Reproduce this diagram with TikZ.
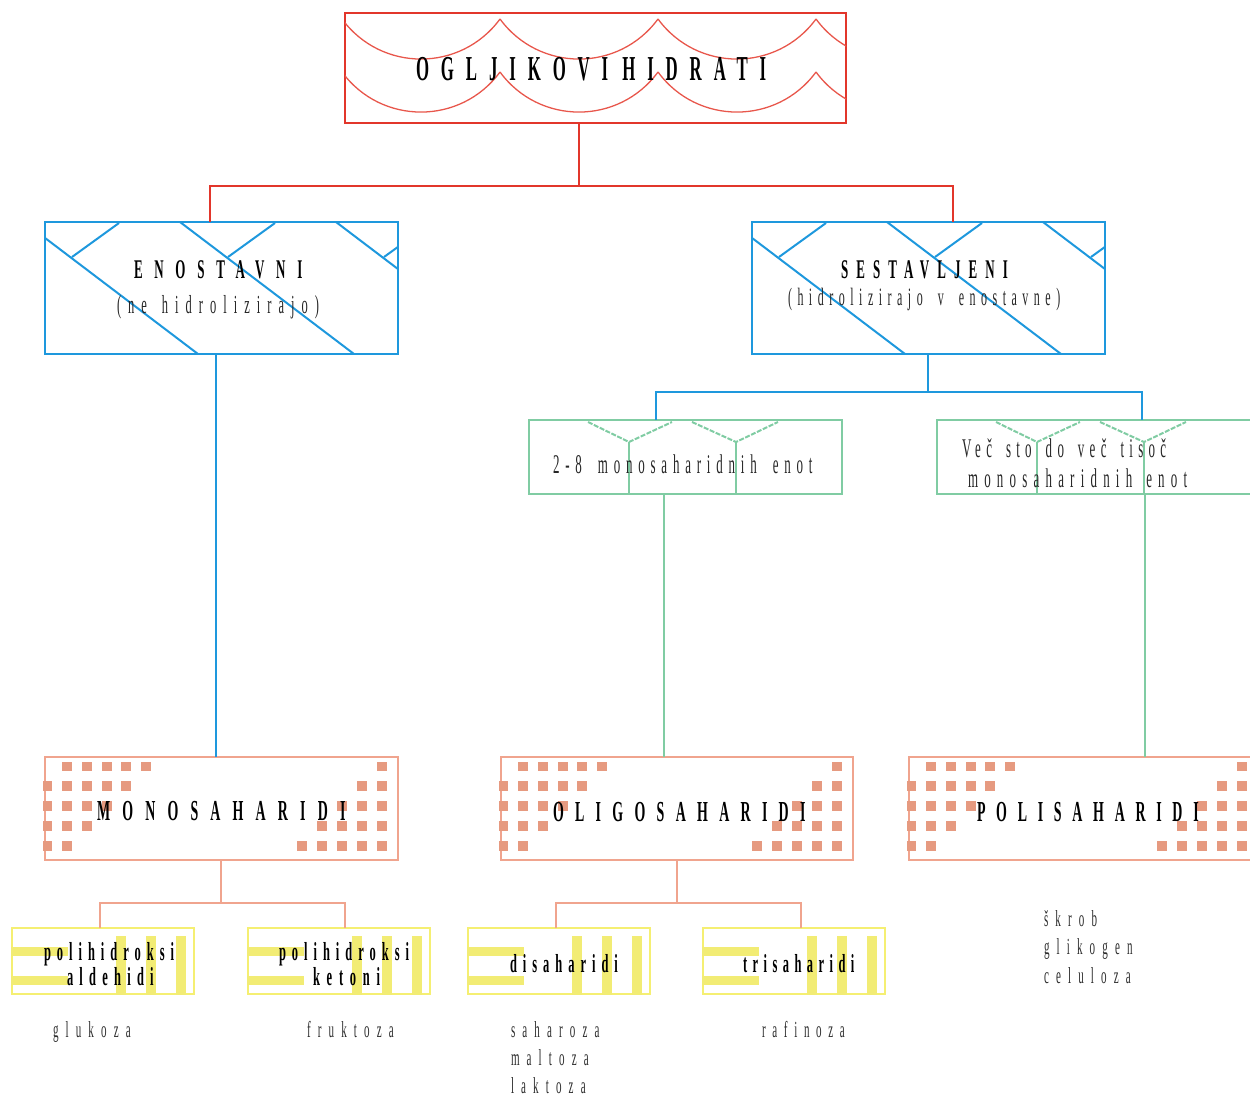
\documentclass[tikz,border=0pt]{standalone}
\usepackage{fontspec}
\newfontfamily\nf[FakeStretch=0.48]{Liberation Serif}
\newcommand{\tf}[4]{\nf#1\fontsize{#2}{#2}\selectfont\addfontfeature{LetterSpace=#3}\spaceskip=#4pt\relax}
\definecolor{cred}{HTML}{E2362B}
\definecolor{cwave}{HTML}{E8574C}
\definecolor{cblue}{HTML}{1E98DD}
\definecolor{cgreen}{HTML}{80CCA3}
\definecolor{csalm}{HTML}{F0A48E}
\definecolor{csq}{HTML}{E69A80}
\definecolor{cyel}{HTML}{F2EC74}
\definecolor{cyelb}{HTML}{F5EF72}
\definecolor{ctxt}{HTML}{262626}
\definecolor{clist}{HTML}{2E2E2E}
\newcommand{\bluedeco}[2]{%
  \begin{scope}
    \clip (#1.north west) rectangle (#1.south east);
    \foreach \a in {-21,135,291}{
      \draw[bdeco] ({#2+\a},222) -- ({#2+\a+174},354);
      \draw[bdeco] ({#2+\a+48},257) -- ({#2+\a+95},223);
    }
  \end{scope}}
\newcommand{\greendeco}[1]{%
  \draw[gdeco] ({#1+59},422) -- ({#1+100},442) -- ({#1+143},422);
  \draw[gdeco] ({#1+163},422) -- ({#1+207},442) -- ({#1+249},422);
  \draw[gvert] ({#1+100},442) -- ({#1+100},494);
  \draw[gvert] ({#1+207},442) -- ({#1+207},494);}
\newcommand{\sqdeco}[2]{% #1 left x, #2 right x
  \foreach \j in {0,...,4}{
    \pgfmathtruncatemacro{\imin}{\j==0 ? 1 : 0}
    \pgfmathtruncatemacro{\imax}{5-\j}
    \foreach \i in {\imin,...,\imax}{
      \fill[csq] ({#1+2.5+19.7*\i-4.9},{757+9.5+19.8*\j-4.9}) rectangle +(9.8,9.8);
    }
    \foreach \k in {0,...,\j}{
      \fill[csq] ({#2-16.3-20*\k-4.9},{757+9.5+19.8*\j-4.9}) rectangle +(9.8,9.8);
    }
  }}
\newcommand{\yeldeco}[1]{%
  \fill[cyel] ({#1-1},947) rectangle ({#1+56},956);
  \fill[cyel] ({#1-1},976) rectangle ({#1+56},985);
  \foreach \v in {104,134,164}{
    \fill[cyel] ({#1+\v},936) rectangle ({#1+\v+9.5},995);
  }}
\begin{document}
\begin{tikzpicture}[x=1pt,y=-1pt,
  box/.style={rectangle, inner sep=0pt, outer sep=0pt, anchor=north west},
  lbl/.style={anchor=base west, inner sep=0pt, outer sep=0pt},
  rline/.style={draw=cred, line width=2pt},
  bline/.style={draw=cblue, line width=1.5pt},
  gline/.style={draw=cgreen, line width=1.1pt},
  sline/.style={draw=csalm, line width=1.1pt},
  wave/.style={draw=cwave, line width=1.3pt},
  bdeco/.style={draw=cblue, line width=2pt},
  gdeco/.style={draw=cgreen, line width=2pt, dash pattern=on 5pt off 1.5pt},
  gvert/.style={draw=cgreen, line width=1.3pt},
]
\useasboundingbox (0,0) rectangle (1250,1096);
\begin{scope}
\clip (0,0) rectangle (1250,1096);
% ---------- boxes ----------
\node[box, draw=cred, line width=2.2pt, minimum width=501pt, minimum height=110pt] (root) at (345,13) {};
\node[box, draw=cblue, line width=1.5pt, minimum width=353pt, minimum height=132pt] (enost) at (45,222) {};
\node[box, draw=cblue, line width=1.5pt, minimum width=353pt, minimum height=132pt] (sest) at (752,222) {};
\node[box, draw=cgreen, line width=1.1pt, minimum width=313pt, minimum height=74pt] (g1) at (529,420) {};
\node[box, draw=cgreen, line width=1.1pt, minimum width=315pt, minimum height=74pt] (g2) at (937,420) {};
\node[box, draw=csalm, line width=1.1pt, minimum width=353pt, minimum height=103pt] (mono) at (45,757) {};
\node[box, draw=csalm, line width=1.1pt, minimum width=352pt, minimum height=103pt] (oligo) at (501,757) {};
\node[box, draw=csalm, line width=1.1pt, minimum width=349pt, minimum height=103pt] (poli) at (909,757) {};
\node[box, draw=cyelb, line width=1.2pt, minimum width=182pt, minimum height=66pt] (ald) at (12,928) {};
\node[box, draw=cyelb, line width=1.2pt, minimum width=182pt, minimum height=66pt] (ket) at (248,928) {};
\node[box, draw=cyelb, line width=1.2pt, minimum width=182pt, minimum height=66pt] (dis) at (468,928) {};
\node[box, draw=cyelb, line width=1.2pt, minimum width=182pt, minimum height=66pt] (tri) at (703,928) {};
% ---------- decorations ----------
\begin{scope}
  \clip (root.north west) rectangle (root.south east);
  \foreach \i in {0,...,4}{
    \pgfmathsetmacro{\xa}{342+158*\i}
    \pgfmathsetmacro{\xb}{\xa+39.2}
    \pgfmathsetmacro{\xc}{\xa+118.8}
    \pgfmathsetmacro{\xd}{\xa+158}
    \draw[wave] (\xa,19) .. controls (\xb,72.4) and (\xc,72.4) .. (\xd,19);
    \draw[wave] (\xa,72) .. controls (\xb,125.4) and (\xc,125.4) .. (\xd,72);
  }
\end{scope}
\bluedeco{enost}{45}
\bluedeco{sest}{752}
\greendeco{529}
\greendeco{937}
\sqdeco{45}{398}
\sqdeco{501}{853}
\sqdeco{909}{1258}
\yeldeco{12}
\yeldeco{248}
\yeldeco{468}
\yeldeco{703}
% ---------- connectors ----------
\coordinate (rj) at (579,186);
\coordinate (rl) at (210,186);
\coordinate (rr) at (953,186);
\draw[rline] (rj |- root.south) -- (rj);
\draw[rline] (rl |- enost.north) -- (rl) -- (rr) -- (rr |- sest.north);
\coordinate (bj) at (928,392);
\coordinate (bl) at (656,392);
\coordinate (br) at (1142,392);
\coordinate (bx) at (216,0);
\draw[bline] (bj |- sest.south) -- (bj);
\draw[bline] (bl |- g1.north) -- (bl) -- (br) -- (br |- g2.north);
\draw[bline] (bx |- enost.south) -- (bx |- mono.north);
\coordinate (gx1) at (664,0);
\coordinate (gx2) at (1145,0);
\draw[gline] (gx1 |- g1.south) -- (gx1 |- oligo.north);
\draw[gline] (gx2 |- g2.south) -- (gx2 |- poli.north);
\coordinate (sm) at (221,903);
\coordinate (sa) at (100,903);
\coordinate (sk) at (345,903);
\draw[sline] (sm |- mono.south) -- (sm);
\draw[sline] (sa |- ald.north) -- (sa) -- (sk) -- (sk |- ket.north);
\coordinate (so) at (677,903);
\coordinate (sd) at (556,903);
\coordinate (st) at (801,903);
\draw[sline] (so |- oligo.south) -- (so);
\draw[sline] (sd |- dis.north) -- (sd) -- (st) -- (st |- tri.north);
% ---------- texts ----------
\node[lbl] (tt) at (416,80) {\tf{\bfseries}{35}{34}{14}OGLJIKOVI HIDRATI};
\node[lbl] (t1a) at (134,278) {\tf{\bfseries}{27}{43.5}{5}ENOSTAVNI};
\node[lbl, text=ctxt] (t1b) at (117,313) {\tf{\mdseries}{26}{27}{15}(ne hidrolizirajo)};
\node[lbl] (t2a) at (841,278) {\tf{\bfseries}{27}{30}{5}SESTAVLJENI};
\node[lbl, text=ctxt] (t2b) at (788,305) {\tf{\mdseries}{25}{22}{15}(hidrolizirajo v enostavne)};
\node[lbl, text=ctxt] (t3) at (553,473) {\tf{\mdseries}{27}{21.5}{16}2-8 monosaharidnih enot};
\node[lbl, text=ctxt] (t4a) at (962,457) {\tf{\mdseries}{27}{19.6}{14}Več sto do več tisoč};
\node[lbl, text=ctxt] (t4b) at (968,487) {\tf{\mdseries}{27}{23}{14}monosaharidnih enot};
\node[lbl] (t5) at (97,820) {\tf{\bfseries}{29}{42}{5}MONOSAHARIDI};
\node[lbl] (t6) at (553,821) {\tf{\bfseries}{29}{39}{5}OLIGOSAHARIDI};
\node[lbl] (t7) at (977,821) {\tf{\bfseries}{29}{37}{5}POLISAHARIDI};
\node[lbl] (t8a) at (44,960) {\tf{\bfseries}{26}{23}{5}polihidroksi};
\node[lbl] (t8b) at (67,985) {\tf{\bfseries}{26}{24}{5}aldehidi};
\node[lbl] (t9a) at (279,960) {\tf{\bfseries}{26}{23}{5}polihidroksi};
\node[lbl] (t9b) at (313,985) {\tf{\bfseries}{26}{26}{5}ketoni};
\node[lbl] (t10) at (510,972) {\tf{\bfseries}{26}{23}{5}disaharidi};
\node[lbl] (t11) at (743,972) {\tf{\bfseries}{26}{21}{5}trisaharidi};
\node[lbl, text=clist] (l1) at (53,1037) {\tf{\mdseries}{23}{31}{5}glukoza};
\node[lbl, text=clist] (l2) at (307,1037) {\tf{\mdseries}{23}{31}{5}fruktoza};
\node[lbl, text=clist] (l3a) at (511,1037) {\tf{\mdseries}{23}{31}{5}saharoza};
\node[lbl, text=clist] (l3b) at (511,1065) {\tf{\mdseries}{23}{31}{5}maltoza};
\node[lbl, text=clist] (l3c) at (511,1093) {\tf{\mdseries}{23}{31}{5}laktoza};
\node[lbl, text=clist] (l4) at (762,1037) {\tf{\mdseries}{23}{29}{5}rafinoza};
\node[lbl, text=clist] (l5a) at (1044,926) {\tf{\mdseries}{23}{31}{5}škrob};
\node[lbl, text=clist] (l5b) at (1044,954.5) {\tf{\mdseries}{23}{31}{5}glikogen};
\node[lbl, text=clist] (l5c) at (1044,983) {\tf{\mdseries}{23}{31}{5}celuloza};
\end{scope}
\end{tikzpicture}
\end{document}
